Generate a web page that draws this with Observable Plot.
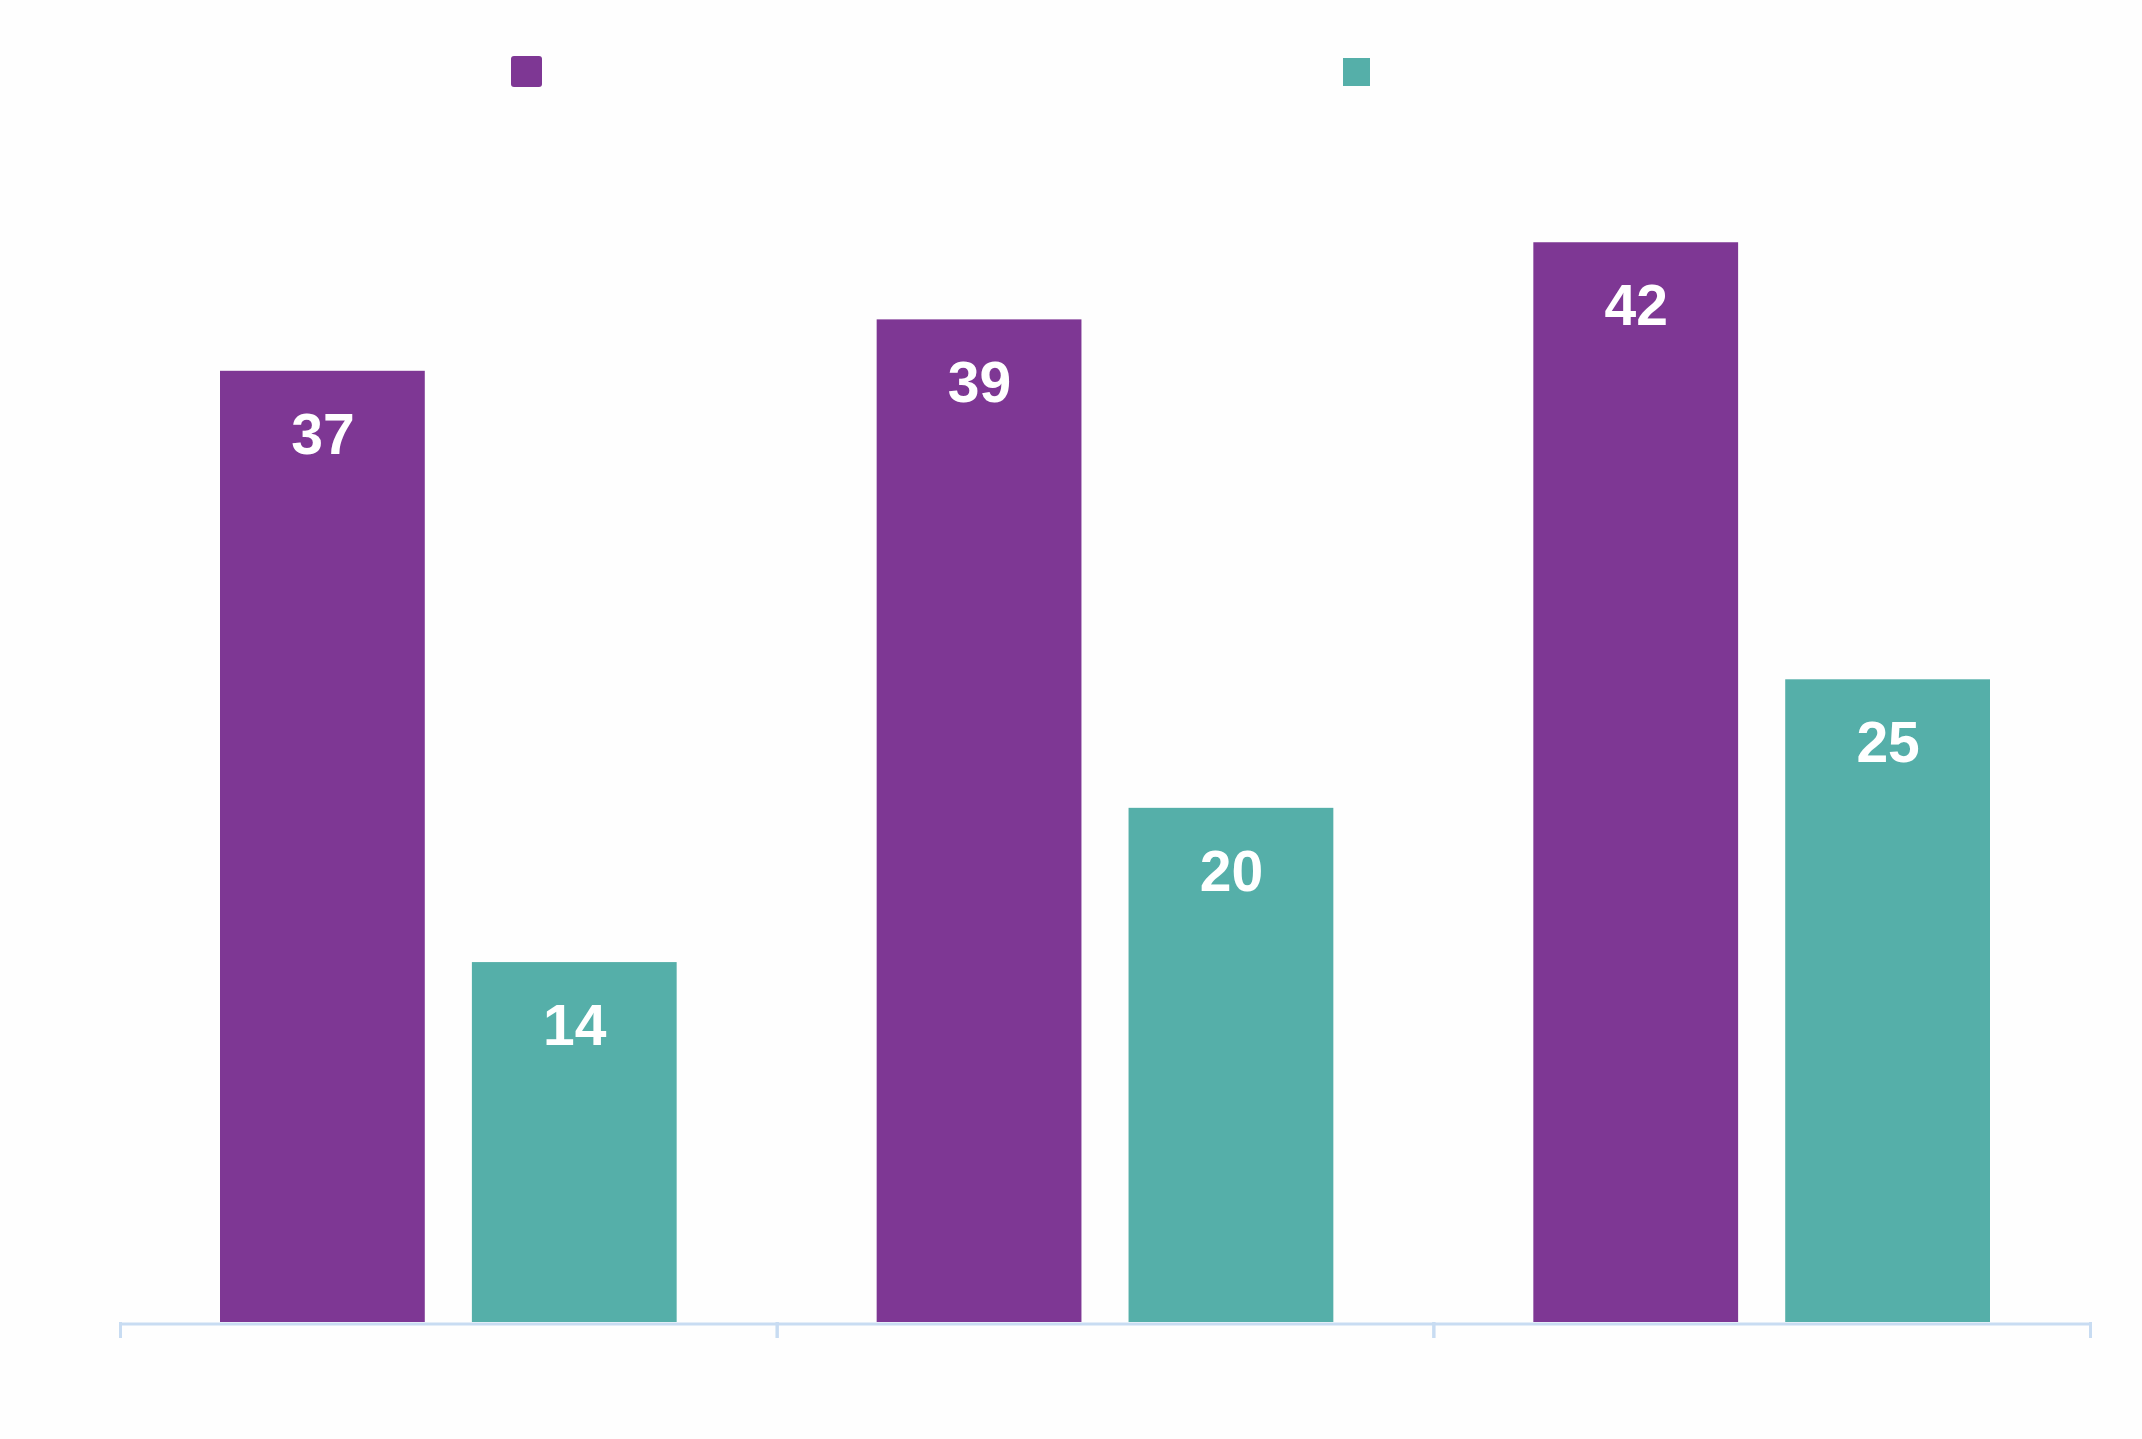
<!DOCTYPE html>
<html>
<head>
<meta charset="utf-8">
<script src="https://cdn.jsdelivr.net/npm/d3@7"></script>
<script src="https://cdn.jsdelivr.net/npm/@observablehq/plot@0.6"></script>
<style>
  html, body { margin: 0; padding: 0; background: #fefefe; }
  #wrap { width: 2142px; }
  #legend { position: relative; width: 2142px; height: 88px; }
  .sw { position: absolute; }
  svg { display: block; }
</style>
</head>
<body>
<div id="wrap">
  <div id="legend"></div>
  <div id="chart"></div>
</div>
<script>
const categories = ["Group A", "Group B", "Group C"];
const seriesNames = ["Series 1", "Series 2"];
const series1 = [37, 39, 42];
const series2 = [14, 20, 25];
const colors = ["#7E3794", "#55AFA9"];

const data = [];
categories.forEach((c, i) => {
  data.push({group: c, series: seriesNames[0], value: series1[i]});
  data.push({group: c, series: seriesNames[1], value: series2[i]});
});

// Legend (swatches only, as in the reference)
const legend = document.getElementById("legend");
const swatchStyles = [
  {left: 511, top: 56, w: 31, h: 31, r: 3},
  {left: 1343, top: 58, w: 27, h: 28, r: 0}
];
seriesNames.forEach((s, i) => {
  const d = document.createElement("div");
  d.className = "sw";
  const st = swatchStyles[i];
  d.style.cssText = `left:${st.left}px;top:${st.top}px;width:${st.w}px;height:${st.h}px;border-radius:${st.r}px;background:${colors[i]}`;
  d.title = s;
  legend.appendChild(d);
});

const W = 2142, ML = 120, MR = 52;
const step = (W - ML - MR) / categories.length;
const axisColor = "#C8DCF2";

const chart = Plot.plot({
  width: W,
  height: 1351,
  marginLeft: ML,
  marginRight: MR,
  marginTop: 0,
  marginBottom: 117,
  style: {background: "transparent", fontFamily: "'Liberation Sans', Arial, sans-serif"},
  fx: {domain: categories, padding: 0, round: false, label: null},
  x: {domain: seriesNames, paddingInner: 0.187, paddingOuter: 0.397, round: false, axis: null},
  y: {domain: [0, 48], axis: null},
  color: {domain: seriesNames, range: colors},
  marks: [
    Plot.barY(data, {fx: "group", x: "series", y: "value", fill: "series"}),
    Plot.ruleY([0], {stroke: axisColor, strokeWidth: 3, dy: 1.5}),
    Plot.axisFx({anchor: "bottom", tickSize: 16, tickFormat: () => "", stroke: axisColor, strokeWidth: 3, dx: -step / 2, label: null}),
    Plot.axisFx({anchor: "bottom", tickSize: 16, tickFormat: () => "", stroke: axisColor, strokeWidth: 3, dx: step / 2, label: null}),
    Plot.text(data, {
      fx: "group", x: "series", y: "value", text: d => String(d.value),
      fill: "white", fontSize: 57, fontWeight: "bold", dy: 64,
      fontFamily: "'Liberation Sans', Arial, sans-serif"
    })
  ]
});
document.getElementById("chart").appendChild(chart);
</script>
</body>
</html>
